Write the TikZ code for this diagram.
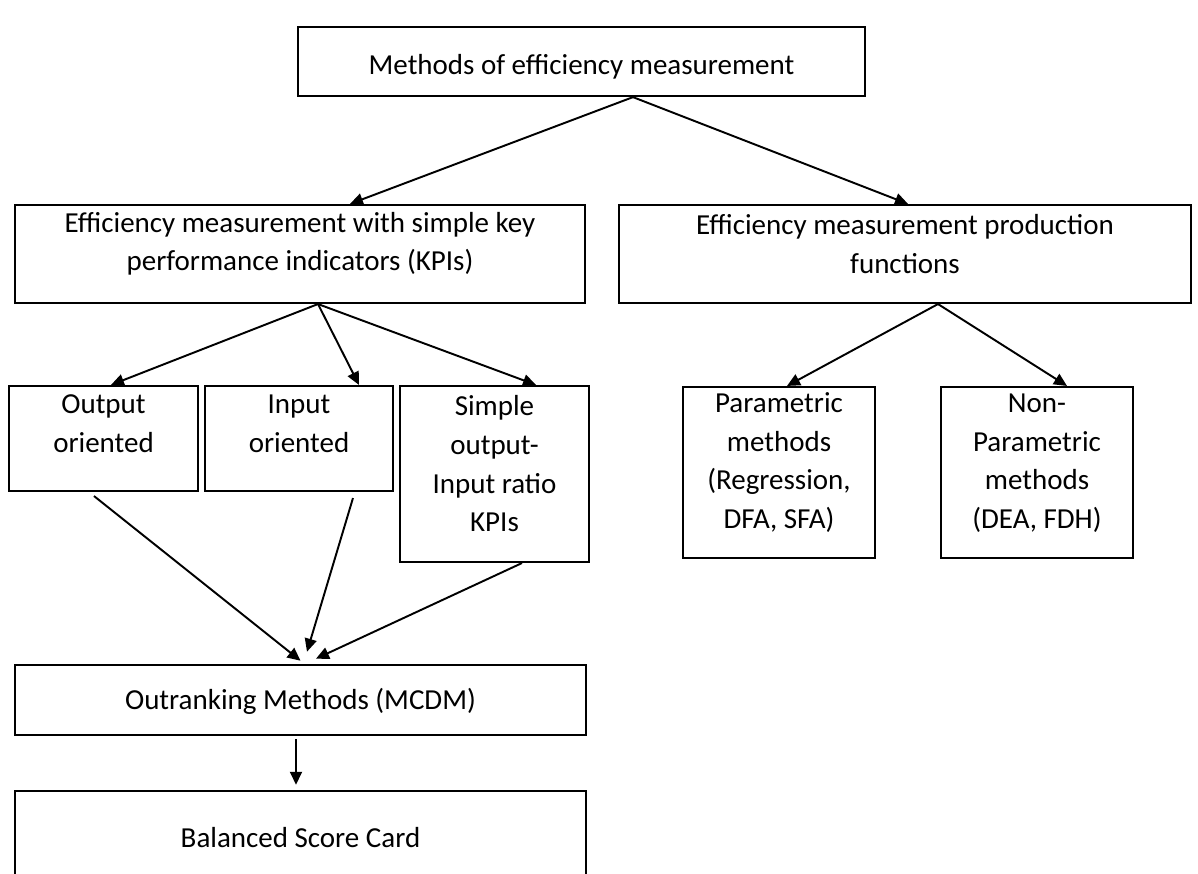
\documentclass[tikz,border=0pt]{standalone}
\usepackage{fontspec}
\setmainfont{Carlito}
\usetikzlibrary{arrows.meta,fit}

\begin{document}
\begin{tikzpicture}[x=0.02cm,y=-0.02cm,
        box/.style={draw,line width=1.2pt,inner sep=0pt,align=center,font=\fontsize{16.5}{22}\selectfont},
        >={Triangle[length=0.26cm,width=0.24cm]},
        link/.style={->,line width=1.1pt}]
        \useasboundingbox (0,0) rectangle (1198,874);
        \clip (0,0) rectangle (1198,874);
        \node[box,fit={(298,12) (865,111)},text depth=0.44cm] (top) {Methods of efficiency measurement};
        \node[box,fit={(15,205) (585,303)}] (kpi) {Efficiency measurement with simple key\\performance indicators (KPIs)};
        \node[box,fit={(619,205) (1191,303)}] (prod) {Efficiency measurement production\\functions};
        \node[box,fit={(9,386) (198,491)}] (outo) {Output\\oriented\strut};
        \node[box,fit={(205,386) (393,491)}] (inpo) {Input\\oriented\strut};
        \node[box,fit={(400,386) (589,562)}] (ratio) {Simple\\output-\\Input ratio\\KPIs};
        \node[box,fit={(683,387) (875,558)}] (param) {Parametric\\methods\\(Regression,\\DFA, SFA)};
        \node[box,fit={(941,387) (1133,558)}] (nonparam) {Non-\\Parametric\\methods\\(DEA, FDH)};
        \node[box,fit={(15,653) (586,747)},text depth=0.52cm] (outrank) {Outranking Methods (MCDM)};
        \node[box,fit={(15,787) (586,900)},text depth=0.98cm] (bsc) {Balanced Score Card};
        \draw[link] ([xshift=1.03cm]top.south) -- ([xshift=1cm]kpi.north);
        \draw[link] ([xshift=1.03cm]top.south) -- ([xshift=0.06cm]prod.north);
        \draw[link] ([xshift=0.36cm]kpi.south) -- ([xshift=0.15cm]outo.north);
        \draw[link] ([xshift=0.36cm]kpi.south) -- ([xshift=1.2cm]inpo.north);
        \draw[link] ([xshift=0.36cm]kpi.south) -- ([xshift=0.83cm]ratio.north);
        \draw[link] ([xshift=0.66cm]prod.south) -- ([xshift=0.16cm]param.north);
        \draw[link] ([xshift=0.66cm]prod.south) -- ([xshift=0.6cm]nonparam.north);
        \draw[link] ([xshift=-0.19cm,yshift=-0.08cm]outo.south) -- ([yshift=0.06cm]outrank.north);
        \draw[link] ([xshift=1.08cm,yshift=-0.12cm]inpo.south) -- ([xshift=0.13cm,yshift=0.24cm]outrank.north);
        \draw[link] ([xshift=0.55cm]ratio.south) -- ([xshift=0.31cm,yshift=0.1cm]outrank.north);
        \draw[link] ([xshift=-0.09cm,yshift=-0.06cm]outrank.south) -- ([xshift=-0.09cm,yshift=0.1cm]bsc.north);
    \end{tikzpicture}
\end{document}
